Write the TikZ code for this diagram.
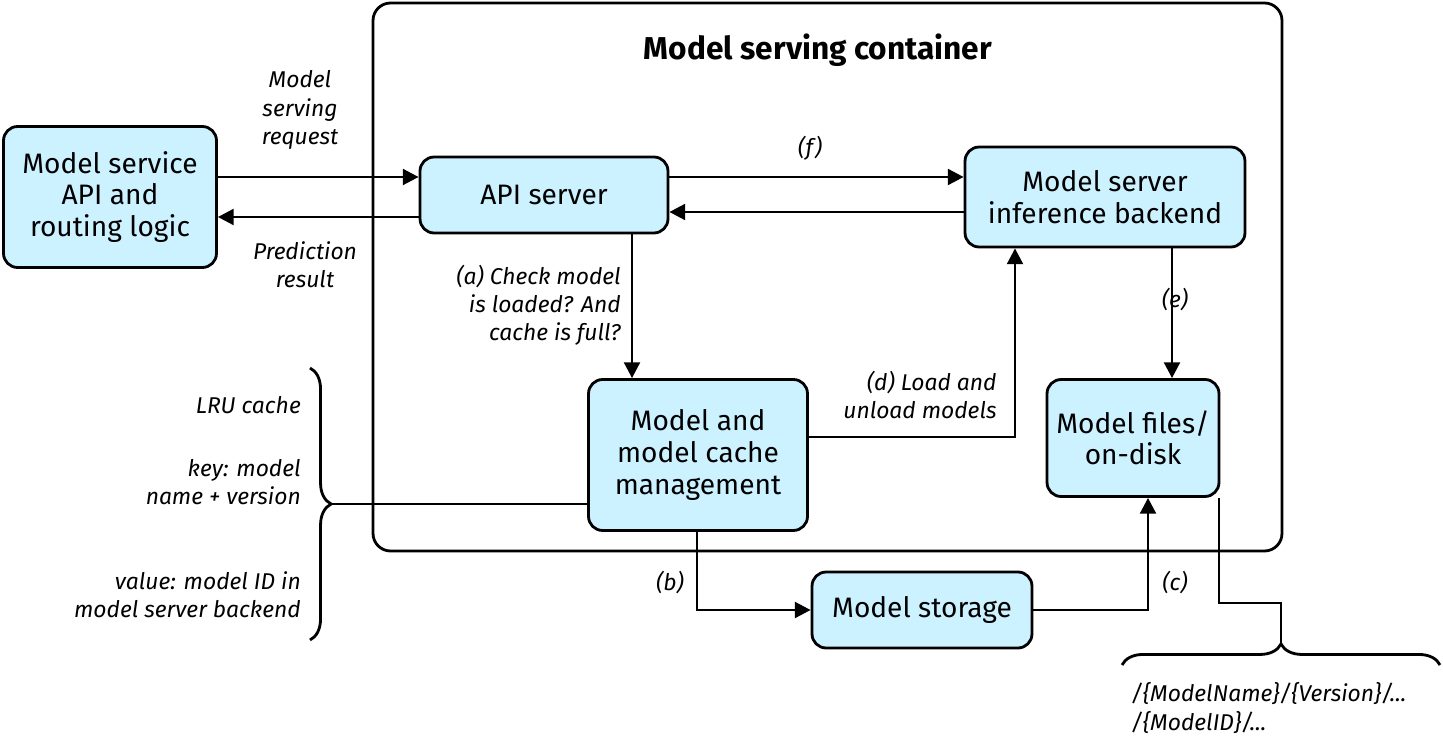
\documentclass[tikz,border=0pt]{standalone}
\usepackage{fontspec}
\setmainfont{Fira Sans}
\usetikzlibrary{arrows.meta, decorations.pathreplacing, positioning}

\tikzset{
  blk/.style={draw, line width=1.6pt, rounded corners=8pt, fill=blue!25!cyan!20!white,
    align=center, font=\fontsize{16}{18}\selectfont, inner sep=2pt},
  lbl/.style={font=\itshape\fontsize{13}{16}\selectfont, align=right},
  flow/.style={-{Triangle[length=9pt,width=9pt]}, line width=1.6pt},
  plain/.style={line width=1.6pt},
}

\begin{document}
\begin{tikzpicture}[x=0.02cm,y=-0.02cm]
      \useasboundingbox (0,0) rectangle (1443,746);
      \draw[line width=1.6pt, rounded corners=10pt] (373,3) rectangle (1282,551);
      \node[font=\bfseries\fontsize{18}{20}\selectfont] (title) at (818,50) {Model serving container};

      \node[blk, minimum width=4.26cm, minimum height=2.82cm] (route) at (110,197) {Model service\\API and\\routing logic};
      \node[blk, minimum width=4.96cm, minimum height=1.52cm] (api) at (544,195) {API server};
      \node[blk, minimum width=5.6cm, minimum height=2cm] (backend) at (1105,197) {Model server\\inference backend};
      \node[blk, minimum width=4.38cm, minimum height=3.02cm] (cache) at (698,455) {Model and\\model cache\\management};
      \node[blk, minimum width=3.44cm, minimum height=2.34cm] (files) at (1133,438) {Model files/\\on-disk};
      \node[blk, minimum width=4.4cm, minimum height=1.52cm] (storage) at (922,610) {Model storage};

      % requests and results
      \draw[flow] (route.east |- 0,177) -- (api.west |- 0,177);
      \draw[flow] (api.west |- 0,217) -- (route.east |- 0,217);
      \node[lbl, align=center] (req) at (300,110) {Model\\serving\\request};
      \node[lbl, align=center] (res) at (305,265) {Prediction\\result};

      \draw[flow] (api.east |- 0,177) -- (backend.west |- 0,177);
      \draw[flow] (backend.west |- 0,212) -- (api.east |- 0,212);
      \node[lbl] (f) at (810,148) {(f)};

      \draw[flow] (api.south -| 632,0) -- (cache.north -| 632,0);
      \node[lbl, anchor=east] (a) at (627,305) {(a) Check model\\is loaded? And\\cache is full?};

      \draw[flow] (cache.east |- 0,437) -| (backend.south -| 1015,0);
      \node[lbl] (d) at (920,395) {(d) Load and\\unload models};

      \draw[flow] (backend.south -| 1172,0) -- (files.north -| 1172,0);
      \node[lbl] (e) at (1175,300) {(e)};

      \draw[flow] (cache.south -| 697,0) |- (storage.west);
      \node[lbl] (b) at (670,583) {(b)};

      \draw[flow] (storage.east) -| (files.south -| 1148,0);
      \node[lbl] (c) at (1175,583) {(c)};

      % left brace
      \draw[plain, decorate, decoration={brace, amplitude=12pt}] (310,368) -- (310,640);
      \coordinate (ltip) at (330,504);
      \draw[plain] (cache.west |- ltip) -- (ltip);
      \node[lbl, anchor=east] (lru) at (307,405) {LRU cache};
      \node[lbl, anchor=east] (key) at (307,482) {key: model\\name + version};
      \node[lbl, anchor=east] (val) at (307,595) {value: model ID in\\model server backend};

      % bottom brace
      \draw[plain, decorate, decoration={brace, amplitude=12pt}] (1122,665) -- (1440,665);
      \coordinate (btip) at (1281,643);
      \draw[plain] (files.south -| 1219,0) |- (1281,603) -- (btip);
      \node[lbl, anchor=west, align=left] (paths) at (1125,708) {/\{ModelName\}/\{Version\}/...\\/\{ModelID\}/...};
\end{tikzpicture}
\end{document}
